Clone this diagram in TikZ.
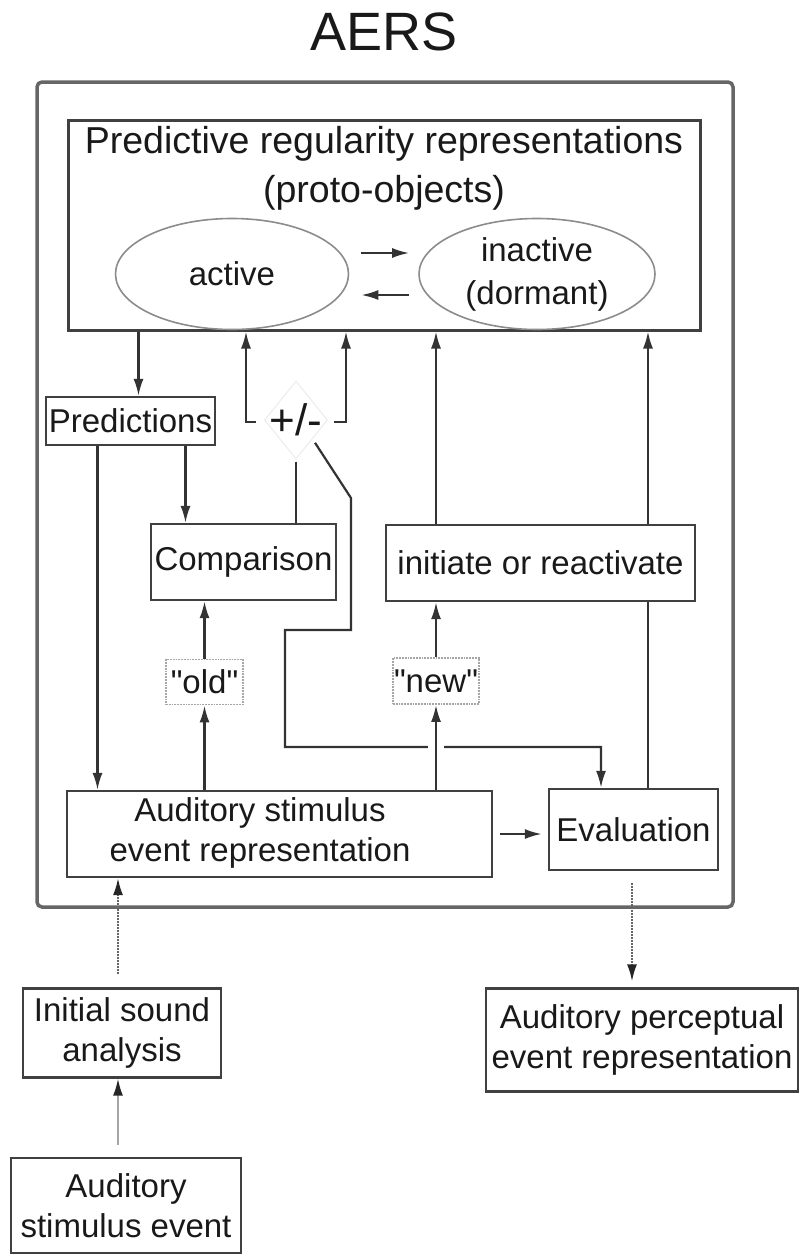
\documentclass[tikz,border=0pt]{standalone}
\usepackage{fontspec}
\setmainfont{Liberation Sans}
\newfontfamily\plainquotes[Ligatures=TeXOff]{Liberation Sans}
\usetikzlibrary{arrows.meta,shapes.geometric,calc}
\begin{document}
\begin{tikzpicture}[x=1pt,y=-1pt,
  every node/.style={font=\fontsize{33}{40}\selectfont, text=black!90},
  box/.style={draw=black!75, line width=2.3pt, fill=white, inner sep=0pt, align=center},
  ell/.style={ellipse, draw=black!45, line width=1.6pt, inner sep=0pt, align=center},
  dotbox/.style={draw=black!35, densely dotted, line width=1.8pt, inner sep=0pt},
  arr/.style={draw=black!80, line width=2.2pt, -{Latex[length=17pt,width=10pt]}},
  ln/.style={draw=black!80, line width=2.2pt},
  dotarr/.style={draw=black!60, densely dotted, line width=2pt, -{Latex[length=17pt,width=10pt,color=black!85]}},
]
\useasboundingbox (0,0) rectangle (801,1258);

\node (title) at (384,32) {\fontsize{54}{60}\selectfont AERS};
\node[draw=black!60, line width=3.5pt, rounded corners=5pt, minimum width=696pt, minimum height=825pt] (aers) at (385,494.5) {};

\node[box, line width=3pt, minimum width=632pt, minimum height=210pt] (top) at (384,225) {};
\node[align=center, font=\fontsize{37.5}{49}\selectfont] (toptxt) at (384,168) {Predictive regularity representations\\(proto-objects)};
\node[ell, minimum width=233pt, minimum height=111pt] (active) at (232,274) {active};
\node[ell, minimum width=236pt, minimum height=111pt, font=\fontsize{33}{43}\selectfont] (inactive) at (537,274) {inactive\\(dormant)};
\draw[arr] ([xshift=12pt,yshift=21pt]active.east) -- ([xshift=-9pt,yshift=21pt]inactive.west);
\draw[arr] ([xshift=-9pt,yshift=-21pt]inactive.west) -- ([xshift=12pt,yshift=-21pt]active.east);

\node[box, minimum width=169pt, minimum height=48pt] (pred) at (130.5,421) {Predictions};
\draw[arr] ([xshift=-245.5pt]top.south) -- ([xshift=8pt]pred.north);

\node[diamond, draw=black!8, line width=1pt, minimum width=63pt, minimum height=78pt, inner sep=0pt,
  label={[font=\fontsize{44}{44}\selectfont, text=black!90]center:+/-}] (pm) at (296,420) {};
\draw[arr] ([xshift=-8pt,yshift=-2pt]pm.west) -| ([xshift=-138pt]top.south);
\draw[arr] ([xshift=6pt,yshift=-2pt]pm.east) -| ([xshift=-38pt]top.south);

\node[box, minimum width=185pt, minimum height=76pt] (comp) at (243.5,562) {Comparison};
\node[box, minimum width=309pt, minimum height=76pt] (init) at (540.5,563) {initiate or reactivate};
\node[dotbox, minimum width=77pt, minimum height=45pt] (old) at (204.5,682) {\plainquotes "old"};
\node[dotbox, minimum width=86pt, minimum height=46pt] (new) at (436,681) {\plainquotes "new"};

\node[box, minimum width=425pt, minimum height=86pt] (aud) at (279.5,834) {};
\node[align=center] (audtxt) at (260,833) {Auditory stimulus\\event representation};
\node[box, minimum width=169pt, minimum height=81pt] (eval) at (633.5,829.5) {Evaluation};

\draw[ln] ([yshift=-2pt]pm.south) -- (pm.south |- comp.north);
\draw[arr] ([xshift=-33pt]pred.south) -- ([xshift=-33pt]pred.south |- aud.north);
\draw[arr] ([xshift=55pt]pred.south) -- ([xshift=55pt]pred.south |- comp.north);

\coordinate (k1) at (351,498);
\coordinate (k2) at (351,630);
\coordinate (k3) at (285,630);
\coordinate (k4) at (285,747);
\draw[arr] ([xshift=3pt,yshift=-3pt]pm.south east) -- (k1) -- (k2) -- (k3) -- (k4) -| ([xshift=-32.5pt]eval.north);

\draw[arr] (old.south |- aud.north) -- (old.south);
\draw[arr] (old.north) -- (old.north |- comp.south);
\draw[arr, preaction={draw=white, line width=16pt, -, shorten <=20pt, shorten >=20pt}] (new.south |- aud.north) -- (new.south);
\draw[arr] (new.north) -- (new.north |- init.south);
\draw[arr] (new.north |- init.north) -- (new.north |- top.south);
\draw[ln] ([xshift=14.5pt]eval.north) -- ([xshift=14.5pt]eval.north |- init.south);
\draw[arr] ([xshift=14.5pt]eval.north |- init.north) -- ([xshift=14.5pt]eval.north |- top.south);
\draw[arr, shorten <=7pt, shorten >=6pt] (aud.east) -- (aud.east -| eval.west);

\node[box, minimum width=198pt, minimum height=89pt] (isa) at (122,1033) {Initial sound\\analysis};
\node[box, minimum width=230pt, minimum height=95pt] (stim) at (126,1205.5) {Auditory\\stimulus event};
\node[box, minimum width=312pt, minimum height=103pt] (perc) at (642,1040) {Auditory perceptual\\event representation};

\draw[dotarr, shorten <=13pt] ([xshift=-4pt]isa.north) -- ([xshift=-4pt]isa.north |- aud.south);
\draw[draw=black!35, line width=1.8pt, -{Latex[length=17pt,width=10pt,color=black!85]}, shorten <=12pt] ([xshift=-8pt]stim.north) -- ([xshift=-8pt]stim.north |- isa.south);
\draw[dotarr, shorten <=12pt, shorten >=6pt] ([xshift=-1.5pt]eval.south) -- ([xshift=-1.5pt]eval.south |- perc.north);
\end{tikzpicture}
\end{document}
